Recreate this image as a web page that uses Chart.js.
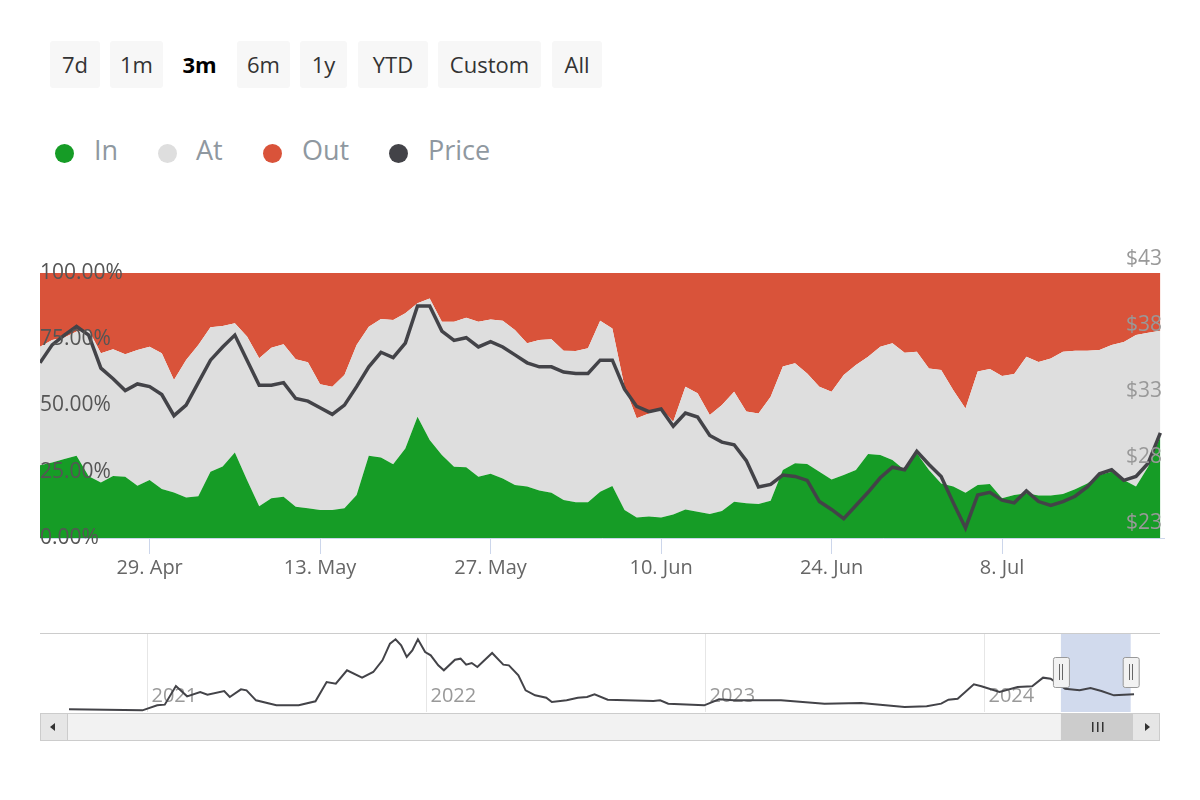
<!DOCTYPE html>
<html><head><meta charset="utf-8">
<script src="https://cdn.jsdelivr.net/npm/chart.js@4"></script>
<style>
body{margin:0;width:1200px;height:800px;background:#fff;font-family:"Open Sans",sans-serif;position:relative;overflow:hidden}
.btn{position:absolute;top:41px;height:47px;line-height:47px;background:#f7f7f7;color:#333;font-size:22px;text-align:center;border-radius:3px}
.btn.sel{background:none;font-weight:bold;color:#000}
.leg{position:absolute;top:132px;font-size:27px;color:#8f98a0;line-height:36px}
.dot{position:absolute;top:144px;width:19px;height:19px;border-radius:50%}
canvas{position:absolute;left:0}
</style></head><body>
<div class="btn" style="left:50px;width:50px">7d</div>
<div class="btn" style="left:110px;width:53px">1m</div>
<div class="btn sel" style="left:172px;width:55px">3m</div>
<div class="btn" style="left:237px;width:53px">6m</div>
<div class="btn" style="left:300px;width:47px">1y</div>
<div class="btn" style="left:358px;width:70px">YTD</div>
<div class="btn" style="left:438px;width:103px">Custom</div>
<div class="btn" style="left:552px;width:50px">All</div>
<div class="dot" style="left:55px;background:#169c26"></div><div class="leg" style="left:94px">In</div>
<div class="dot" style="left:158px;background:#dedede"></div><div class="leg" style="left:196px">At</div>
<div class="dot" style="left:263px;background:#d9533a"></div><div class="leg" style="left:302px">Out</div>
<div class="dot" style="left:389px;background:#434348"></div><div class="leg" style="left:428px">Price</div>
<canvas id="main" style="top:0;width:1200px;height:588px" width="1200" height="588"></canvas>
<canvas id="nav" style="top:620px;width:1200px;height:130px" width="1200" height="130"></canvas>
<script>
// day index 0 = 20 Apr
const inPct=[27.5,28.5,29.8,31,23.3,20.9,23.4,23.1,19.7,21.9,18.5,17.2,15.3,15.8,25,27,32.3,21.9,12,15,15.6,11.8,11.2,10.6,10.6,11.2,16.2,31,30.4,27.8,33.8,45.8,37,31.3,26.9,26.7,23.1,24.2,22.5,20,19.4,17.9,17.1,14.3,13.5,13.5,17.5,19.6,10.6,7.7,8.1,7.7,8.9,10.8,9.9,9.1,10.2,13.7,13.1,12.8,14.1,25.7,28.2,27.9,25,22.1,23.8,25.7,31.7,31.3,29.4,25.7,32,25.7,20.6,19.4,17.1,20,20.4,15,16.2,16.9,16,16,16.6,18.4,20.6,23.8,25,21.9,19.4,26.9,38.2];
const inAtPct=[72.2,74.7,75.7,77.9,78.5,69.7,71.2,69.3,70.9,72.2,69.7,59.6,67.2,72.8,79.5,80,81,76,67.8,71.8,73.1,67.5,66.3,58,57.1,61.5,72.8,79.7,82.6,82.3,84.8,88.6,90.4,81.6,81.6,83.1,81.6,82.5,82,78.5,73.5,74.7,75,70.7,70.6,71.6,82,79.1,57.1,45.2,47,48.9,43.9,57.1,54.6,46.4,50.2,55.2,47.7,47,53.3,64.7,65.9,62.1,57.1,55.2,61.5,65.3,68.4,72.2,73.5,69.9,70.3,64,63.4,55.8,48.9,62.8,63.8,61.1,61.9,68.4,66.4,67.7,70.3,70.7,70.7,70.9,72.8,74,76.6,77.5,78.2];
const price=[35.2,36.56,37.3,37.95,37.3,34.8,34.0,33.1,33.6,33.4,32.8,31.2,32.0,33.7,35.4,36.4,37.3,35.4,33.5,33.5,33.7,32.5,32.3,31.8,31.3,32.0,33.4,34.9,36.0,35.6,36.7,39.5,39.5,37.6,36.9,37.1,36.4,36.8,36.4,35.8,35.2,34.9,34.9,34.5,34.4,34.4,35.4,35.4,33.2,31.9,31.5,31.7,30.4,31.4,31.1,29.7,29.2,29.0,27.8,25.8,26.0,26.7,26.6,26.3,24.7,24.1,23.4,24.4,25.4,26.5,27.3,27.1,28.5,27.5,26.6,24.6,22.7,25.2,25.4,24.8,24.6,25.5,24.7,24.4,24.7,25.1,25.8,26.8,27.1,26.3,26.6,27.6,29.9];
const tickDays=[9,23,37,51,65,79];
const tickLabels=['29. Apr','13. May','27. May','10. Jun','24. Jun','8. Jul'];
const pctTicks=[0,25,50,75,100];
const priceTicks=[23,28,33,38,43];
const navYears=[2020.721,2020.984,2021.037,2021.064,2021.104,2021.144,2021.191,2021.217,2021.277,2021.297,2021.337,2021.357,2021.391,2021.464,2021.544,2021.604,2021.644,2021.677,2021.717,2021.771,2021.811,2021.844,2021.871,2021.891,2021.911,2021.931,2021.951,2021.971,2021.997,2022.017,2022.044,2022.064,2022.104,2022.124,2022.144,2022.164,2022.184,2022.237,2022.277,2022.297,2022.331,2022.357,2022.391,2022.431,2022.451,2022.504,2022.544,2022.577,2022.604,2022.651,2022.815,2022.839,2022.868,2022.997,2023.050,2023.102,2023.272,2023.428,2023.559,2023.715,2023.794,2023.846,2023.872,2023.905,2023.963,2023.990,2024.055,2024.120,2024.172,2024.211,2024.238,2024.290,2024.342,2024.381,2024.420,2024.465,2024.537];
const navPrice=[8,5,20,22,78,47,60,52,63,45,68,65,35,20,20,32,90,85,125,103,120,155,205,218,200,165,185,218,180,170,140,125,157,160,142,147,135,177,142,140,110,65,50,43,30,35,43,45,53,37,33,35,25,20,38,35,35,25,27,15,17,25,37,40,83,77,60,75,77,103,100,70,65,72,63,50,53];
const navYearTicks=[2021,2022,2023,2024];

const days=inPct.map((_,i)=>i);
const atPct=inAtPct.map((v,i)=>+(v-inPct[i]).toFixed(2));
const outPct=inAtPct.map(v=>+(100-v).toFixed(2));
const xy=arr=>arr.map((v,i)=>({x:days[i],y:v}));
const font={family:'"Open Sans", sans-serif',size:20};

const axisLabels={id:'axisLabels',
 afterDatasetsDraw(c){
  const ctx=c.ctx,a=c.chartArea,y=c.scales.y,y1=c.scales.y1;
  ctx.save();ctx.font='21px "Open Sans", sans-serif';ctx.textBaseline='middle';
  ctx.fillStyle='#555';ctx.textAlign='left';
  pctTicks.forEach(v=>ctx.fillText(v.toFixed(2)+'%',a.left,y.getPixelForValue(v)));
  ctx.fillStyle='#999';ctx.textAlign='right';
  priceTicks.forEach(v=>ctx.fillText('$'+v,a.right-2,y1.getPixelForValue(v)-1));
  ctx.restore();
 }};

new Chart(document.getElementById('main'),{
 type:'line',
 data:{datasets:[
  {label:'Price',data:xy(price),yAxisID:'y1',borderColor:'#434348',borderWidth:3.5,pointRadius:0,fill:false,tension:0},
  {label:'In',data:xy(inPct),yAxisID:'y',stack:'s',borderWidth:0,pointRadius:0,backgroundColor:'#169c26',fill:'origin',tension:0},
  {label:'At',data:xy(atPct),yAxisID:'y',stack:'s',borderWidth:0,pointRadius:0,backgroundColor:'#dedede',fill:'-1',tension:0},
  {label:'Out',data:xy(outPct),yAxisID:'y',stack:'s',borderWidth:0,pointRadius:0,backgroundColor:'#d9533a',fill:'-1',tension:0}
 ]},
 options:{responsive:false,animation:false,events:[],
  layout:{padding:{left:40,right:36,top:273,bottom:0}},
  plugins:{legend:{display:false},tooltip:{enabled:false}},
  scales:{
   x:{type:'linear',min:0,max:92.3,
     afterBuildTicks:s=>{s.ticks=tickDays.map(v=>({value:v}));},
     afterFit:s=>{s.height=50;},
     grid:{drawOnChartArea:false,drawTicks:true,tickLength:16,color:'#ccd6eb'},
     border:{color:'#ccd6eb'},
     ticks:{font,color:'#666',padding:2,maxRotation:0,autoSkip:false,callback:(v)=>tickLabels[tickDays.indexOf(v)]}},
   y:{stacked:true,min:0,max:100,position:'left',
     afterFit:s=>{s.width=0;},
     grid:{display:false},border:{display:false},ticks:{display:false}},
   y1:{min:21.94,max:42.0,position:'right',
     afterFit:s=>{s.width=0;},
     grid:{display:false},border:{display:false},ticks:{display:false}}
  }},
 plugins:[axisLabels]
});

const selFrom=2024.275, selTo=2024.525;
const navPlugin={id:'navx',
 beforeDatasetsDraw(c){
  const ctx=c.ctx,a=c.chartArea,xs=c.scales.x;
  ctx.save();
  ctx.strokeStyle='#e6e6e6';ctx.lineWidth=1;
  ctx.font='20px "Open Sans", sans-serif';ctx.fillStyle='#999';ctx.textBaseline='middle';
  navYearTicks.forEach(y=>{const px=Math.round(xs.getPixelForValue(y))+0.5;
   ctx.beginPath();ctx.moveTo(px,a.top);ctx.lineTo(px,a.bottom);ctx.stroke();
   ctx.fillText(String(y),px+4,a.bottom-16);});
  const x1=xs.getPixelForValue(selFrom),x2=xs.getPixelForValue(selTo);
  ctx.fillStyle='rgba(102,133,194,0.3)';ctx.fillRect(x1,a.top,x2-x1,a.bottom-a.top);
  ctx.strokeStyle='#cccccc';ctx.beginPath();ctx.moveTo(a.left,a.top+0.5);ctx.lineTo(a.right,a.top+0.5);ctx.stroke();
  ctx.restore();
 },
 afterDraw(c){
  const ctx=c.ctx,a=c.chartArea,xs=c.scales.x;
  const x1=xs.getPixelForValue(selFrom),x2=xs.getPixelForValue(selTo);
  ctx.save();
  const sy=a.bottom+1,sh=28;
  ctx.fillStyle='#f2f2f2';ctx.fillRect(a.left,sy,a.right-a.left,sh);
  ctx.strokeStyle='#cccccc';ctx.lineWidth=1;ctx.strokeRect(a.left+0.5,sy+0.5,a.right-a.left-1,sh-1);
  ctx.fillStyle='#e6e6e6';ctx.fillRect(a.left+1,sy+1,26,sh-2);ctx.fillRect(a.right-27,sy+1,26,sh-2);
  ctx.strokeRect(a.left+0.5,sy+0.5,27,sh-1);ctx.strokeRect(a.right-27.5,sy+0.5,27,sh-1);
  ctx.fillStyle='#333';
  ctx.beginPath();ctx.moveTo(a.left+10,sy+14);ctx.lineTo(a.left+15,sy+10);ctx.lineTo(a.left+15,sy+18);ctx.fill();
  ctx.beginPath();ctx.moveTo(a.right-10,sy+14);ctx.lineTo(a.right-15,sy+10);ctx.lineTo(a.right-15,sy+18);ctx.fill();
  ctx.fillStyle='#cccccc';ctx.fillRect(x1,sy+1,a.right-27-x1,sh-2);
  ctx.fillStyle='#333';const cx=(x1+a.right-27)/2;
  [-5,0,5].forEach(d=>ctx.fillRect(Math.round(cx+d),sy+9,1.5,10));
  [x1,x2].forEach(hx=>{
   ctx.fillStyle='#f2f2f2';ctx.strokeStyle='#999';
   ctx.beginPath();ctx.roundRect(hx-8+0.5,a.top+24+0.5,16,30,2);ctx.fill();ctx.stroke();
   ctx.fillStyle='#666';ctx.fillRect(Math.round(hx-2),a.top+31,1,16);ctx.fillRect(Math.round(hx+1),a.top+31,1,16);
  });
  ctx.restore();
 }};

new Chart(document.getElementById('nav'),{
 type:'line',
 data:{datasets:[{data:navYears.map((x,i)=>({x,y:navPrice[i]})),borderColor:'#434348',borderWidth:2,pointRadius:0,tension:0,fill:false}]},
 options:{responsive:false,animation:false,events:[],
  layout:{padding:{left:40,right:40,top:13,bottom:38}},
  plugins:{legend:{display:false},tooltip:{enabled:false}},
  scales:{x:{type:'linear',min:2020.617,max:2024.63,display:false},
          y:{min:0,max:237,display:false}}},
 plugins:[navPlugin]
});
</script></body></html>
